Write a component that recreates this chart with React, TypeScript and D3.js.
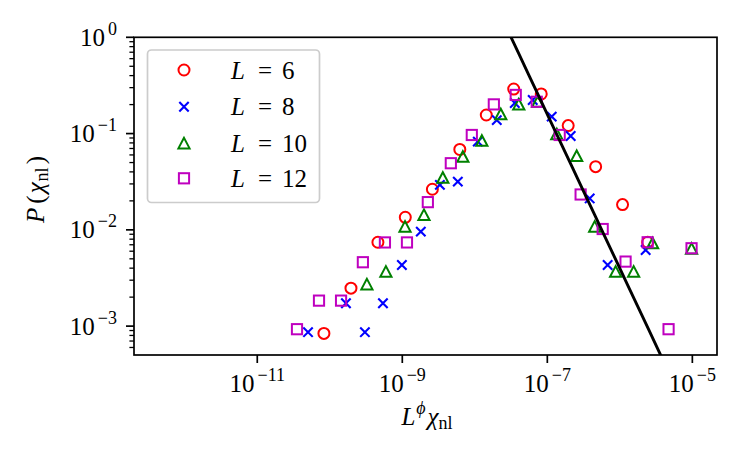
import * as d3 from "d3";

// values (log-log distribution of L^phi chi_nl)
const L6_x = [8.3e-11, 1.96e-10, 4.61e-10, 1.1e-9, 2.6e-9, 6.21e-9, 1.44e-8, 3.44e-8, 8.24e-8, 1.94e-7, 4.64e-7, 1.09e-6, 2.42e-6];
const L6_y = [8.4e-4, 2.48e-3, 7.43e-3, 1.35e-2, 2.64e-2, 6.84e-2, 0.156, 0.29, 0.258, 0.121, 4.53e-2, 1.83e-2, 7.43e-3];

const L8_x = [5.01e-11, 1.67e-10, 3.05e-10, 5.41e-10, 9.87e-10, 1.8e-9, 3.3e-9, 5.83e-9, 1.1e-8, 2.01e-8, 3.56e-8, 6.29e-8, 1.15e-7, 2.1e-7, 3.84e-7, 6.79e-7, 2.27e-6];
const L8_y = [8.65e-4, 1.73e-3, 8.65e-4, 1.73e-3, 4.32e-3, 9.58e-3, 2.93e-2, 3.17e-2, 8.24e-2, 0.138, 0.208, 0.223, 0.15, 9.44e-2, 2.12e-2, 4.32e-3, 6.18e-3];

const L10_x = [3.25e-10, 5.94e-10, 1.09e-9, 1.99e-9, 3.62e-9, 6.84e-9, 1.25e-8, 2.28e-8, 4.04e-8, 7.38e-8, 1.35e-7, 2.54e-7, 4.5e-7, 8.75e-7, 1.55e-6, 2.83e-6, 9.75e-6];
const L10_y = [2.72e-3, 3.68e-3, 1.08e-2, 1.43e-2, 3.48e-2, 5.75e-2, 8.44e-2, 0.159, 0.201, 0.214, 9.84e-2, 5.85e-2, 1.08e-2, 3.68e-3, 3.68e-3, 7.26e-3, 6.38e-3];

const L12_x = [3.53e-11, 7.1e-11, 1.43e-10, 2.86e-10, 5.76e-10, 1.16e-9, 2.25e-9, 4.67e-9, 9.09e-9, 1.83e-8, 3.67e-8, 7.15e-8, 1.48e-7, 2.88e-7, 5.8e-7, 1.2e-6, 2.42e-6, 4.7e-6, 9.75e-6];
const L12_y = [9.29e-4, 1.84e-3, 1.84e-3, 4.61e-3, 7.4e-3, 7.4e-3, 1.94e-2, 4.92e-2, 9.67e-2, 0.201, 0.252, 0.214, 9.67e-2, 2.33e-2, 1.02e-2, 4.68e-3, 7.43e-3, 9.29e-4, 6.44e-3];

const sizes = ["6", "8", "10", "12"];

// power-law guide line P = A x^k
const fitA = 1e-12;
const fitK = -1.6;
const fitRange = [1e-8, 1e-5];

const xTicks = [1e-11, 1e-9, 1e-7, 1e-5];
const yTicks = [1e-3, 1e-2, 1e-1, 1];

const W = 747;
const H = 462;
const FONT = "'Liberation Serif', 'DejaVu Serif', serif";
const FS = 25;
const FS_SUP = 18;

const series = [
  { xs: L6_x, ys: L6_y, color: "#ff0000", shape: "o" },
  { xs: L8_x, ys: L8_y, color: "#0000ff", shape: "x" },
  { xs: L10_x, ys: L10_y, color: "#008000", shape: "^" },
  { xs: L12_x, ys: L12_y, color: "#bf00bf", shape: "s" },
];

const Marker = ({ shape, color, cx, cy }: { shape: string; color: string; cx: number; cy: number }) => {
  const t = `translate(${cx},${cy})`;
  if (shape === "o")
    return <circle cx={cx} cy={cy} r={5.5} fill="none" stroke={color} strokeWidth={2} />;
  if (shape === "s")
    return <rect transform={t} x={-5.1} y={-5.1} width={10.2} height={10.2} fill="none" stroke={color} strokeWidth={2} />;
  if (shape === "^")
    return <path transform={t} d="M0,-5.5L-5.6,5.1L5.6,5.1Z" fill="none" stroke={color} strokeWidth={2} strokeLinejoin="miter" />;
  return <path transform={t} d="M-4.7,-4.7L4.7,4.7M-4.7,4.7L4.7,-4.7" fill="none" stroke={color} strokeWidth={2.1} />;
};

const expLabel = (v: number) => {
  const e = Math.round(Math.log10(v));
  return e < 0 ? `\u2212${-e}` : `${e}`;
};

export default function App() {
  const x = d3.scaleLog().domain([10 ** -12.7, 10 ** -4.66]).range([134, 717]);
  const y = d3.scaleLog().domain([10 ** -3.3, 1]).range([355, 37.3]);
  const [x0, x1] = x.range();
  const [y0, y1] = y.range();

  const yMinor: number[] = [];
  for (let e = -4; e <= 0; e++) {
    for (let m = 2; m <= 9; m++) {
      const v = m * 10 ** e;
      if (v >= y.domain()[0] && v <= 1) yMinor.push(v);
    }
  }

  const fitPts = d3.range(0, 21).map((i) => {
    const lx = Math.log10(fitRange[0]) + (i / 20) * (Math.log10(fitRange[1]) - Math.log10(fitRange[0]));
    const xv = 10 ** lx;
    return [xv, fitA * xv ** fitK] as [number, number];
  });
  const fitLine = d3
    .line<[number, number]>()
    .x((d) => x(d[0]))
    .y((d) => y(d[1]))(fitPts);

  const legendRows = [70, 106.7, 143.3, 178.3];

  return (
    <svg width={W} height={H} style={{ position: "absolute", left: 0, top: 0, background: "#fff" }} fontFamily={FONT}>
      <defs>
        <clipPath id="plot">
          <rect x={x0} y={y1} width={x1 - x0} height={y0 - y1} />
        </clipPath>
      </defs>
      <rect width={W} height={H} fill="#fff" />

      <g clipPath="url(#plot)">
        {series.map((s, si) =>
          s.xs.map((xv, i) => (
            <Marker key={`${si}-${i}`} shape={s.shape} color={s.color} cx={x(xv)} cy={y(s.ys[i])} />
          ))
        )}
        <path d={fitLine ?? ""} fill="none" stroke="#000" strokeWidth={2.9} />
      </g>

      {/* axes frame */}
      <rect x={x0} y={y1} width={x1 - x0} height={y0 - y1} fill="none" stroke="#000" strokeWidth={1.7} />

      {/* x ticks */}
      {xTicks.map((t) => (
        <g key={`xt${t}`}>
          <line x1={x(t)} x2={x(t)} y1={y0} y2={y0 + 8} stroke="#000" strokeWidth={1.7} />
          <text x={x(t)} y={392} textAnchor="middle" fontSize={FS}>
            <tspan>10</tspan>
            <tspan dx={3} dy={-11} fontSize={FS_SUP}>{expLabel(t)}</tspan>
          </text>
        </g>
      ))}

      {/* y ticks */}
      {yTicks.map((t) => (
        <g key={`yt${t}`}>
          <line x1={x0 - 8} x2={x0} y1={y(t)} y2={y(t)} stroke="#000" strokeWidth={1.7} />
          <text x={117} y={y(t) + 8.5} textAnchor="end" fontSize={FS}>
            <tspan>10</tspan>
            <tspan dx={3} dy={-11} fontSize={FS_SUP}>{expLabel(t)}</tspan>
          </text>
        </g>
      ))}
      {yMinor.map((t) => (
        <line key={`ym${t}`} x1={x0 - 4.6} x2={x0} y1={y(t)} y2={y(t)} stroke="#000" strokeWidth={1.3} />
      ))}

      {/* axis labels */}
      <text x={427} y={425} textAnchor="middle" fontSize={FS}>
        <tspan fontStyle="italic">L</tspan>
        <tspan fontStyle="italic" fontSize={FS_SUP} dx={1} dy={-11}>{"\u03d5"}</tspan>
        <tspan fontStyle="italic" dx={2} dy={11}>{"\u03c7"}</tspan>
        <tspan fontSize={FS_SUP} dy={4}>nl</tspan>
      </text>
      <text transform="translate(44,189.5) rotate(-90)" textAnchor="middle" fontSize={FS}>
        <tspan fontStyle="italic">P</tspan>
        <tspan dx={4}>(</tspan>
        <tspan fontStyle="italic" dx={2}>{"\u03c7"}</tspan>
        <tspan fontSize={FS_SUP} dx={1} dy={4}>nl</tspan>
        <tspan dx={3} dy={-4}>)</tspan>
      </text>

      {/* legend */}
      <rect x={147.5} y={50} width={172} height={152.5} rx={4} fill="#fff" fillOpacity={0.8} stroke="#cccccc" strokeWidth={1.7} />
      {series.map((s, i) => (
        <g key={`lg${i}`}>
          <Marker shape={s.shape} color={s.color} cx={184} cy={legendRows[i]} />
          <text x={231} y={legendRows[i] + 8.5} fontSize={FS} fontStyle="italic">L</text>
          <text x={265} y={legendRows[i] + 8.5} fontSize={FS} textAnchor="middle">=</text>
          <text x={282} y={legendRows[i] + 8.5} fontSize={FS}>{sizes[i]}</text>
        </g>
      ))}
    </svg>
  );
}
